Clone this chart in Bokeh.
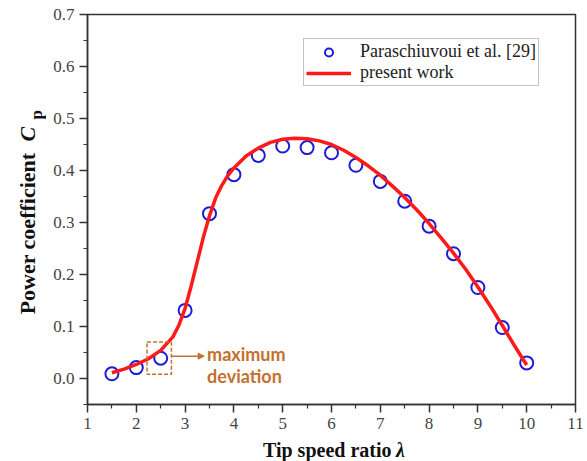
import math
from bokeh.plotting import figure
from bokeh.layouts import row, column
from bokeh.models import (Range1d, FixedTicker, Label, Legend, LegendItem,
                          BoxAnnotation, Arrow, NormalHead, PrintfTickFormatter)
from bokeh.core.properties import value
from bokeh.embed import file_html
from bokeh.resources import INLINE

# Reference data (Paraschiuvoui et al. [29])
ref_tsr = [1.5, 2.0, 2.5, 3.0, 3.5, 4.0, 4.5, 5.0, 5.5, 6.0, 6.5, 7.0, 7.5, 8.0, 8.5, 9.0, 9.5, 10.0]
ref_cp = [0.009, 0.021, 0.039, 0.131, 0.317, 0.392, 0.429, 0.447, 0.444, 0.434, 0.410, 0.379, 0.341, 0.293, 0.240, 0.175, 0.098, 0.030]

# Present work curve
cur_tsr = [1.5, 1.75, 2.0, 2.25, 2.5, 2.75, 2.875, 3.0, 3.125, 3.25, 3.375, 3.5, 3.625, 3.75, 3.875,
           4.0, 4.25, 4.5, 4.75, 5.0, 5.25, 5.5, 5.75, 6.0, 6.25, 6.5, 6.75, 7.0, 7.25, 7.5, 7.75,
           8.0, 8.25, 8.5, 8.75, 9.0, 9.25, 9.5, 9.75, 10.0]
cur_cp = [0.011, 0.018, 0.027, 0.038, 0.054, 0.080, 0.103, 0.135, 0.178, 0.225, 0.272, 0.313,
          0.347, 0.371, 0.390, 0.405, 0.428, 0.443, 0.454, 0.460, 0.462, 0.461, 0.457, 0.450,
          0.439, 0.425, 0.409, 0.391, 0.370, 0.348, 0.324, 0.298, 0.270, 0.241, 0.210, 0.176,
          0.140, 0.102, 0.063, 0.026]

x_ticks = [1, 2, 3, 4, 5, 6, 7, 8, 9, 10, 11]
y_ticks = [0.0, 0.1, 0.2, 0.3, 0.4, 0.5, 0.6, 0.7]
x_minor = [t + 0.5 for t in x_ticks[:-1]]
y_minor = [-0.05] + [round(t + 0.05, 2) for t in y_ticks[:-1]]

SERIF = "Liberation Serif"
TITLE_COL = "#111111"

p = figure(width=541, height=435, output_backend="svg", toolbar_location=None,
           x_range=Range1d(1, 11), y_range=Range1d(-0.05, 0.7),
           min_border_left=41, min_border_right=12, min_border_top=14, min_border_bottom=31)
p.grid.visible = False
p.outline_line_color = "#333333"
p.outline_line_width = 1.5

p.xaxis.ticker = FixedTicker(ticks=x_ticks, minor_ticks=x_minor)
p.yaxis.ticker = FixedTicker(ticks=y_ticks, minor_ticks=y_minor)
p.yaxis.formatter = PrintfTickFormatter(format="%.1f")
p.axis.axis_line_color = "#333333"
p.axis.axis_line_width = 1.5
p.axis.major_tick_line_color = "#333333"
p.axis.minor_tick_line_color = "#333333"
p.axis.major_tick_line_width = 1.5
p.axis.minor_tick_line_width = 1.2
p.axis.major_tick_out = 8
p.axis.major_tick_in = 0
p.axis.minor_tick_out = 4
p.axis.minor_tick_in = 0
p.axis.major_label_text_font_size = "17px"
p.axis.major_label_text_color = "#444444"
p.axis.major_label_standoff = 5
p.axis.major_label_text_font = SERIF

sc = p.scatter(ref_tsr, ref_cp, marker="circle", size=13, fill_color=None,
               line_color="#1c1cd8", line_width=2)
ln = p.line(cur_tsr, cur_cp, line_color="#ff1a1a", line_width=3.5)

legend = Legend(items=[LegendItem(label="Paraschiuvoui et al. [29]", renderers=[sc]),
                       LegendItem(label="present work", renderers=[ln])],
                location=(216, 318), padding=2, spacing=0, glyph_width=45, glyph_height=20,
                label_height=20, label_standoff=9, margin=0,
                border_line_color="#888888", border_line_width=1,
                label_text_font=SERIF, label_text_font_size="18px",
                label_text_line_height=1.0,
                label_text_color="#222222", background_fill_alpha=1)
p.add_layout(legend)

# annotation
anno_col = "#c4702e"
p.add_layout(BoxAnnotation(left=2.22, right=2.72, bottom=0.008, top=0.07, fill_alpha=0,
                           line_color=anno_col, line_alpha=1, line_dash="4 2", line_width=1.5))
p.add_layout(Arrow(end=NormalHead(size=6, fill_color=anno_col, line_color=anno_col),
                   x_start=2.73, y_start=0.043, x_end=3.39, y_end=0.043,
                   line_color=anno_col, line_width=1.5))
for txt, yv in (("maximum", 0.047), ("deviation", 0.004)):
    p.add_layout(Label(x=3.45, y=yv, text=txt, text_align="left", text_baseline="middle",
                       text_font="Lato", text_font_style="bold", text_font_size="18px",
                       text_color=anno_col))


def title_fig(w, h):
    f = figure(width=w, height=h, output_backend="svg", toolbar_location=None,
               x_range=Range1d(0, w), y_range=Range1d(0, h),
               x_axis_type=None, y_axis_type=None,
               min_border=0, min_border_left=0, min_border_right=0,
               min_border_top=0, min_border_bottom=0)
    f.grid.visible = False
    f.outline_line_color = None
    return f


# y-axis title (left strip)
yf = title_fig(46, 461)
yf.text(x=[27], y=[309], text=["Power coefficient"], angle=math.pi / 2,
        text_align="right", text_baseline="middle", text_font=value(SERIF),
        text_font_style="bold", text_font_size="22px", text_color=TITLE_COL)
yf.text(x=[27], y=[320], text=["C"], angle=math.pi / 2,
        text_align="left", text_baseline="middle", text_font=value(SERIF),
        text_font_style="bold italic", text_font_size="22px", text_color=TITLE_COL)
yf.text(x=[36], y=[342], text=["p"], angle=math.pi / 2,
        text_align="left", text_baseline="middle", text_font=value(SERIF),
        text_font_style="bold", text_font_size="17px", text_color=TITLE_COL)

# x-axis title (bottom strip)
xf = title_fig(541, 26)
xf.text(x=[337], y=[12], text=["Tip speed ratio"], text_align="right",
        text_baseline="middle", text_font=value(SERIF), text_font_style="bold",
        text_font_size="20px", text_color=TITLE_COL)
xf.text(x=[342], y=[12], text=["λ"], text_align="left",
        text_baseline="middle", text_font=value(SERIF), text_font_style="bold italic",
        text_font_size="20px", text_color=TITLE_COL)

layout = row(yf, column(p, xf, spacing=0), spacing=0)

open("out.html", "w").write(file_html(layout, INLINE))
